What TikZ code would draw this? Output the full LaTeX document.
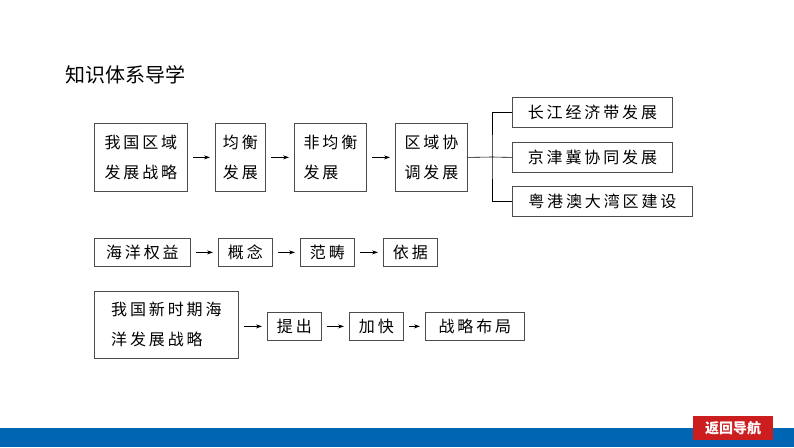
\documentclass[tikz,border=0pt]{standalone}
\usepackage{fontspec}
\setmainfont{Noto Sans CJK SC}
\newfontfamily\boxfont[LetterSpace=18]{Noto Sans CJK SC}
\usetikzlibrary{arrows.meta}
\definecolor{barblue}{RGB}{0,102,179}
\definecolor{navred}{RGB}{204,30,30}
\tikzset{
  box/.style={draw=black!70, line width=0.8pt, anchor=north west, inner sep=0pt,
    font=\boxfont\fontsize{16}{30}\selectfont, align=left},
  link/.style={-{Stealth[length=6pt,width=4pt]}, line width=0.6pt, shorten <=5pt, shorten >=5pt},
}
\begin{document}
\begin{tikzpicture}[x=1pt,y=-1pt]
\useasboundingbox (0,0) rectangle (794,447);
\fill[barblue] (0,428) rectangle (794,447);
\fill[navred] (693,416) rectangle (773,440);
\node[text=white, font=\bfseries\fontsize{14}{14}\selectfont] (nav) at (733,428) {返回导航};
\node[anchor=west, font=\fontsize{20}{20}\selectfont] (title) at (62,75) {知识体系导学};

% first row
\node[box, minimum width=93pt, minimum height=68pt] (region) at (94,123) {我国区域\\发展战略};
\node[box, minimum width=50pt, minimum height=68pt] (balance) at (215,123) {均衡\\发展};
\node[box, minimum width=72pt, minimum height=68pt] (unbalance) at (294,123) {非均衡\\发展\hphantom{衡}};
\node[box, minimum width=72pt, minimum height=68pt] (coord) at (395,123) {区域协\\调发展};
\node[box, minimum width=160pt, minimum height=30pt] (yangtze) at (512,97) {长江经济带发展};
\node[box, minimum width=160pt, minimum height=30pt] (jjj) at (512,142) {京津冀协同发展};
\node[box, minimum width=180pt, minimum height=30pt] (gba) at (512,186) {粤港澳大湾区建设};
\draw[link] (region) -- (balance);
\draw[link] (balance) -- (unbalance);
\draw[link] (unbalance) -- (coord);
\coordinate (fork) at (492,157);
\draw[line width=0.6pt] (coord.east) -- (fork);
\draw[line width=0.6pt] (yangtze.west) -| (fork) |- (gba.west);
\draw[line width=0.6pt] (fork) -- (jjj.west);

% second row
\node[box, minimum width=96pt, minimum height=28pt] (rights) at (94,238) {海洋权益};
\node[box, minimum width=54pt, minimum height=28pt] (concept) at (218,238) {概念};
\node[box, minimum width=54pt, minimum height=28pt] (scope) at (300,238) {范畴};
\node[box, minimum width=54pt, minimum height=28pt] (basis) at (383,238) {依据};
\draw[link] (rights) -- (concept);
\draw[link] (concept) -- (scope);
\draw[link] (scope) -- (basis);

% third row
\node[box, minimum width=144pt, minimum height=67pt] (ocean) at (94,291) {我国新时期海\\洋发展战略\hphantom{海}};
\node[box, minimum width=54pt, minimum height=28pt] (propose) at (267,312) {提出};
\node[box, minimum width=54pt, minimum height=28pt] (speed) at (349,312) {加快};
\node[box, minimum width=99pt, minimum height=28pt] (layout) at (425,312) {战略布局};
\draw[link] (ocean.east |- propose.west) -- (propose);
\draw[link] (propose) -- (speed);
\draw[link] (speed) -- (layout);
\end{tikzpicture}
\end{document}
